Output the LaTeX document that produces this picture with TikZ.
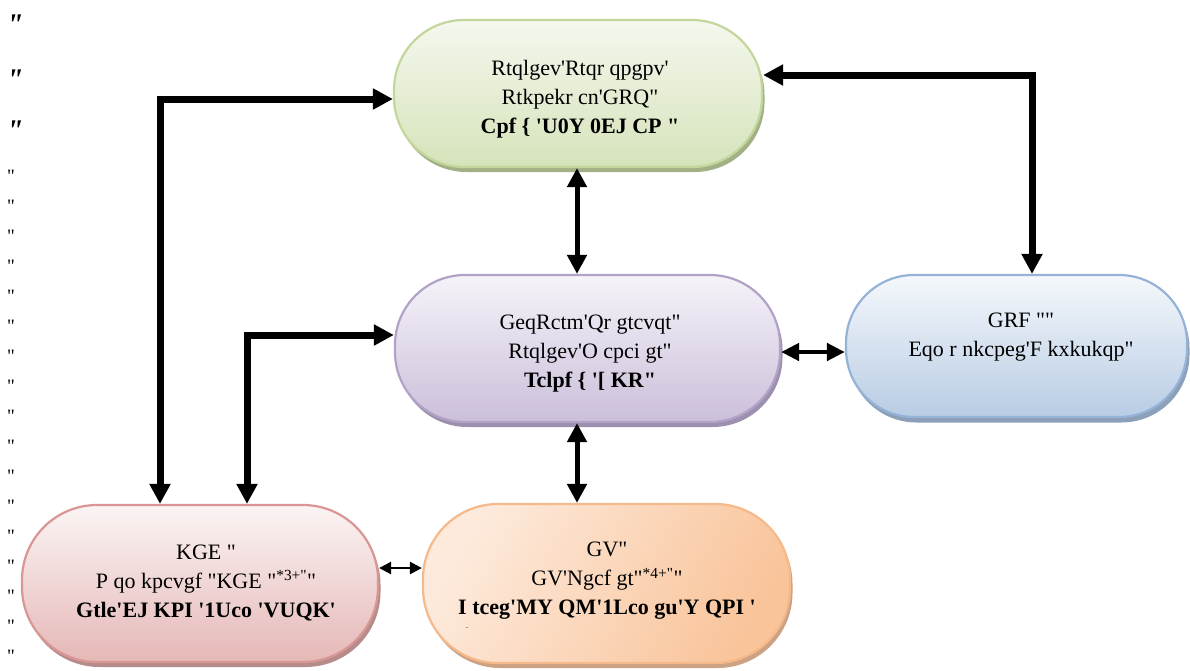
\documentclass[tikz,border=0pt]{standalone}
\usepackage{fontspec}
\setmainfont{Liberation Serif}[Ligatures=TeXOff]
\usetikzlibrary{arrows.meta,shadows,calc}
\newcommand\sq{\textquotesingle}
\definecolor{gB}{HTML}{C3D69B}\definecolor{gT}{HTML}{F4F8EE}\definecolor{gD}{HTML}{D6E3BA}\definecolor{gS}{HTML}{A2B086}
\definecolor{pB}{HTML}{B3A2C7}\definecolor{pT}{HTML}{F6F3F9}\definecolor{pD}{HTML}{CBBFDA}\definecolor{pS}{HTML}{9C90AE}
\definecolor{bB}{HTML}{95B3D7}\definecolor{bT}{HTML}{F5F8FC}\definecolor{bD}{HTML}{B8CCE4}\definecolor{bS}{HTML}{8DA0B9}
\definecolor{rB}{HTML}{D99694}\definecolor{rT}{HTML}{FBF4F4}\definecolor{rD}{HTML}{E5B8B7}\definecolor{rS}{HTML}{B58C8B}
\definecolor{oB}{HTML}{F5B98A}\definecolor{oT}{HTML}{FDEADC}\definecolor{oD}{HTML}{F9C49A}\definecolor{oS}{HTML}{CBA283}
\begin{document}
\begin{tikzpicture}[x=1pt,y=-1pt,
  box/.style={draw, line width=2.2pt, inner sep=0pt},
  txt/.style={align=center, inner sep=0pt, font=\fontsize{22}{29}\selectfont},
  larrow/.style={line width=7pt, arrows={Triangle[length=20pt,width=20pt]-Triangle[length=20pt,width=20pt]}},
  varrow/.style={line width=5pt, arrows={Triangle[length=19pt,width=19pt]-Triangle[length=19pt,width=19pt]}},
  harrow/.style={line width=4.5pt, arrows={Triangle[length=18pt,width=17pt]-Triangle[length=18pt,width=17pt]}},
  tarrow/.style={line width=2.5pt, arrows={Triangle[length=12pt,width=12pt]-Triangle[length=12pt,width=12pt]}},
  mark1/.style={inner sep=0pt, font=\fontsize{30}{30}\selectfont\bfseries\itshape},
  mark2/.style={inner sep=0pt, font=\fontsize{19}{19}\selectfont}
]
\useasboundingbox (0,0) rectangle (1190,670);
\fill[white] (0,0) rectangle (1190,670);

% margin marks
\foreach \yy [count=\i] in {25,80,131} \node[mark1] (mi\i) at (15,\yy) {"};
\foreach \k in {0,...,16} \node[mark2] (ms\k) at (11,{176+30*\k}) {"};

% boxes
\node[box, draw=gB, top color=gT, bottom color=gD, rounded corners=70pt,
  minimum width=368pt, minimum height=147pt,
  general shadow={fill=gS, shadow xshift=2.5pt, shadow yshift=-5pt}] (green) at (578,93.5) {};
\node[box, draw=pB, top color=pT, bottom color=pD, rounded corners=70pt,
  minimum width=385pt, minimum height=147pt,
  general shadow={fill=pS, shadow xshift=2.5pt, shadow yshift=-5pt}] (purple) at (587.5,348.5) {};
\node[box, draw=bB, top color=bT, bottom color=bD, rounded corners=68pt,
  minimum width=341pt, minimum height=142pt,
  general shadow={fill=bS, shadow xshift=2.5pt, shadow yshift=-5.5pt}] (blue) at (1016.5,346) {};
\node[box, draw=rB, top color=rT, bottom color=rD, rounded corners=75pt,
  minimum width=356pt, minimum height=157pt,
  general shadow={fill=rS, shadow xshift=2.5pt, shadow yshift=-5pt}] (red) at (200,583.5) {};
\node[box, draw=oB, left color=oT, right color=oD, shading angle=60, rounded corners=75pt,
  minimum width=367pt, minimum height=159pt,
  general shadow={fill=oS, shadow xshift=2.5pt, shadow yshift=-5pt}] (orange) at (606.5,583.5) {};

% texts
\node[txt] (greent) at (580,99) {Rtqlgev\sq Rtqr qpgpv\sq\\ Rtkpekr cn\sq GRQ"\\ \textbf{Cpf \{ \sq U0Y 0EJ CP "}};
\node[txt] (purplet) at (590,353.5) {GeqRctm\sq Qr gtcvqt"\\ Rtqlgev\sq O cpci gt"\\ \textbf{Tclpf \{ \sq[ KR"}};
\node[txt] (bluet) at (1021,337) {GRF ""\\ Eqo r nkcpeg\sq F kxkukqp"};
\node[txt] (redt) at (206,583) {KGE "\\ P qo kpcvgf "KGE "\textsuperscript{*3+"}"\\ \textbf{Gtle\sq EJ KPI \sq1Uco \sq VUQK\sq}};
\node[txt] (oranget) at (607,581) {GV"\\ GV\sq Ngcf gt"\textsuperscript{*4+"}"\\ \textbf{I tceg\sq MY QM\sq1Lco gu\sq Y QPI \sq}};
\node[inner sep=0pt, font=\fontsize{6}{6}\selectfont] (dots) at (467,628) {..};

% connectors
\draw[larrow] (red.north -| 160,0) |- (green.west |- 0,99);
\draw[larrow] (red.north -| 247,0) |- (purple.west |- 0,335);
\draw[larrow] (green.east |- 0,75) -| (blue.north -| 1032,0);
\draw[varrow] (green.south -| 577,0) -- (purple.north -| 577,0);
\draw[varrow] (purple.south -| 577,0) -- (orange.north -| 577,0);
\draw[harrow] (purple.east |- 0,352) -- (blue.west |- 0,352);
\draw[tarrow] (red.east |- 0,568) -- (orange.west |- 0,568);
\end{tikzpicture}
\end{document}
